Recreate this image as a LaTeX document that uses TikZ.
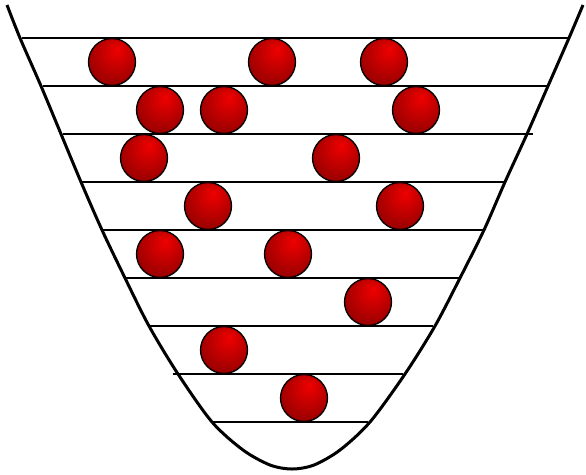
\documentclass[tikz,border=0pt]{standalone}
\definecolor{ballred}{HTML}{F00000}
\definecolor{balldark}{HTML}{600000}
\pgfdeclareradialshading{redball}{\pgfpoint{6bp}{14bp}}{%
  color(0bp)=(ballred); color(50bp)=(balldark)}
\begin{document}
\begin{tikzpicture}[x=1pt, y=-1pt,
    bowl/.style={line width=3pt, line join=round},
    level/.style={line width=1.8pt},
    ball/.style={circle, draw, line width=1.3pt, minimum size=47pt,
      inner sep=0pt, shading=redball}
  ]
  \useasboundingbox (0,0) rectangle (586,474);
  % energy levels
  \foreach \y/\xa/\xb in {38/22/568, 86/43/547, 134/63/533, 182/82/504,
      230/102/483, 278/126/459, 326/150/433, 374/173/403, 422/212/368}
    \draw[level] (\xa,\y) -- (\xb,\y);
  % potential well
  \draw[bowl] plot[smooth] coordinates {(7,5) (20,38) (41,86) (61,134)
      (81,182) (102,230) (125,278) (149,326) (178,374) (212,422) (243,450)
      (270,465) (292,469) (314,465) (340,450) (370,422) (405,374) (435,326)
      (460,278) (484,230) (505,182) (527,134) (548,86) (569,38) (583,5)};
  % particles
  \foreach \n/\x/\y in {1/112/62, 2/272/62, 3/384/62, 4/160/110, 5/224/110,
      6/416/110, 7/144/158, 8/336/158, 9/208/206, 10/400/206, 11/160/254,
      12/288/254, 13/368/302, 14/224/350, 15/304/398}
    \node[ball] (ball\n) at (\x,\y) {};
\end{tikzpicture}
\end{document}
